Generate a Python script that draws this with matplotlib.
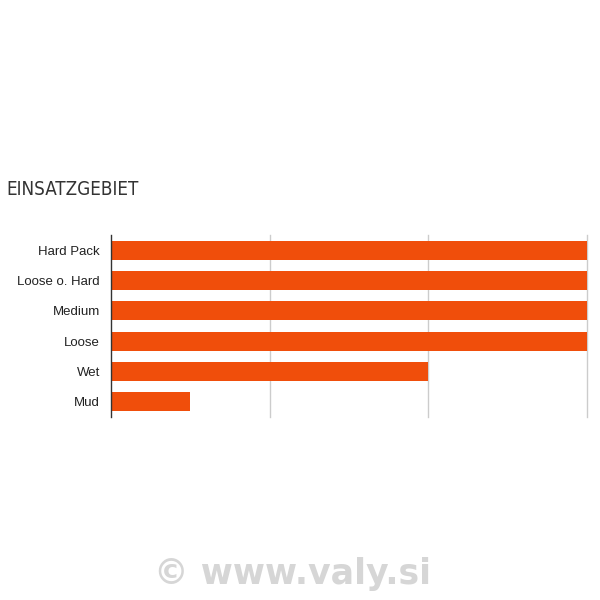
import matplotlib
matplotlib.use("Agg")
import matplotlib.pyplot as plt

categories = ["Hard Pack", "Loose o. Hard", "Medium", "Loose", "Wet", "Mud"]
values = [3, 3, 3, 3, 2, 0.5]

bar_color = "#F04E0B"

fig = plt.figure(figsize=(6, 6), dpi=100)
ax = fig.add_axes([0.185, 0.305, 0.793, 0.303])

ypos = list(range(len(categories)))
ax.barh(ypos, values, height=0.63, color=bar_color, zorder=3)
ax.set_yticks(ypos)
ax.set_yticklabels(categories, fontsize=9.5, color="#222222", family=["Liberation Sans", "DejaVu Sans"])
ax.set_ylim(len(categories) - 0.5, -0.5)
ax.set_xlim(0, 3)
ax.set_xticks([1, 2, 3])
ax.tick_params(axis="x", length=0, labelbottom=False)
ax.tick_params(axis="y", length=0, pad=8)
ax.grid(axis="x", color="#cccccc", linewidth=1, zorder=0)
for line in ax.get_xgridlines():
    line.set_clip_on(False)
for side in ["top", "right", "bottom"]:
    ax.spines[side].set_visible(False)
ax.spines["left"].set_color("#333333")
ax.spines["left"].set_linewidth(1)
ax.spines["left"].set_zorder(4)

fig.text(0.01, 0.684, "EINSATZGEBIET", fontsize=13.5, color="#333333",
         family=["DejaVu Sans"], fontstretch="condensed", fontweight="light",
         va="center", ha="left")

fig.text(0.487, 0.043, "© www.valy.si", fontsize=25, color="#d6d6d6",
         fontweight="bold", family=["DejaVu Sans"], va="center", ha="center")

fig.savefig("out.png", dpi=100)
